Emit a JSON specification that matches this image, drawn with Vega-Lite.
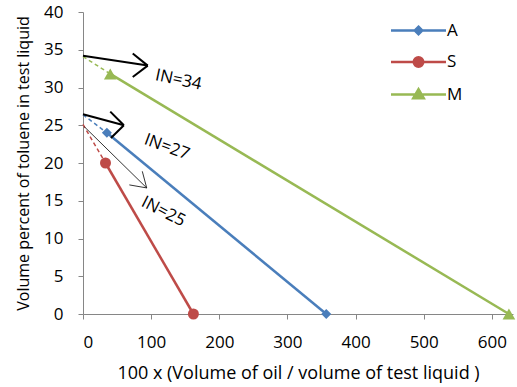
{
  "$schema": "https://vega.github.io/schema/vega-lite/v6.json",
  "width": 430,
  "height": 302,
  "autosize": "none",
  "padding": {"left": 83, "top": 12, "right": 4, "bottom": 73},
  "config": {
    "view": {"stroke": null},
    "font": "Open Sans",
    "axis": {
      "grid": false,
      "domainColor": "#868686",
      "tickColor": "#868686",
      "tickSize": 5,
      "labelFont": "Open Sans",
      "labelFontSize": 17,
      "labelColor": "#000000",
      "titleFont": "Open Sans",
      "titleFontWeight": "normal",
      "titleColor": "#000000"
    }
  },
  "datasets": {
    "pts": [
      {"series": "A", "x": 35, "y": 24},
      {"series": "A", "x": 357, "y": 0},
      {"series": "S", "x": 33, "y": 20},
      {"series": "S", "x": 162, "y": 0},
      {"series": "M", "x": 40, "y": 31.8},
      {"series": "M", "x": 625, "y": 0}
    ],
    "dash": [
      {"series": "A", "x": 0, "y": 26.4},
      {"series": "A", "x": 35, "y": 24},
      {"series": "S", "x": 0, "y": 25.1},
      {"series": "S", "x": 33, "y": 20},
      {"series": "M", "x": 0, "y": 34.1},
      {"series": "M", "x": 40, "y": 31.8}
    ],
    "arrows": [
      {"w": "thick", "x": 0, "y": 34.2, "x2": 95, "y2": 32.9},
      {"w": "thick", "x": 95, "y": 32.9, "x2": 73, "y2": 34.5},
      {"w": "thick", "x": 95, "y": 32.9, "x2": 73, "y2": 31.4},
      {"w": "thick", "x": 0, "y": 26.45, "x2": 60, "y2": 25.0},
      {"w": "thick", "x": 60, "y": 25.0, "x2": 40, "y2": 26.8},
      {"w": "thick", "x": 60, "y": 25.0, "x2": 41, "y2": 23.3},
      {"w": "thin", "x": 2, "y": 24.8, "x2": 93.5, "y2": 16.7},
      {"w": "thin", "x": 93.5, "y": 16.7, "x2": 87, "y2": 18.9},
      {"w": "thin", "x": 93.5, "y": 16.7, "x2": 68, "y2": 17.1}
    ],
    "labels": [
      {"label": "IN=34", "x": 140, "y": 31.0},
      {"label": "IN=27", "x": 123, "y": 22.1},
      {"label": "IN=25", "x": 118, "y": 13.55}
    ]
  },
  "encoding": {
    "x": {
      "field": "x",
      "type": "quantitative",
      "scale": {"domain": [0, 631], "nice": false},
      "axis": {
        "values": [0, 100, 200, 300, 400, 500, 600],
        "title": "100 x (Volume of oil / volume of test liquid )",
        "titleFontSize": 18,
        "labelPadding": 15,
        "titlePadding": 14
      }
    },
    "y": {
      "field": "y",
      "type": "quantitative",
      "scale": {"domain": [0, 40], "nice": false},
      "axis": {
        "values": [0, 5, 10, 15, 20, 25, 30, 35, 40],
        "title": "Volume percent of toluene in test liquid",
        "titleFontSize": 16,
        "labelPadding": 15,
        "titlePadding": 12
      }
    }
  },
  "layer": [
    {
      "data": {"name": "dash"},
      "mark": {"type": "line", "strokeWidth": 1.5, "strokeDash": [4, 3]},
      "encoding": {
        "detail": {"field": "series"},
        "color": {
          "condition": [
            {"test": "datum.series === 'A'", "value": "#4A7EBB"},
            {"test": "datum.series === 'S'", "value": "#BE4B48"}
          ],
          "value": "#98B954"
        },
        "order": {"field": "x", "type": "quantitative"}
      }
    },
    {
      "data": {"name": "pts"},
      "mark": {"type": "line", "strokeWidth": 2.5},
      "encoding": {
        "detail": {"field": "series"},
        "color": {
          "condition": [
            {"test": "datum.series === 'A'", "value": "#4A7EBB"},
            {"test": "datum.series === 'S'", "value": "#BE4B48"}
          ],
          "value": "#98B954"
        },
        "order": {"field": "x", "type": "quantitative"}
      }
    },
    {
      "data": {"name": "pts"},
      "transform": [{"filter": "datum.series === 'A'"}],
      "mark": {"type": "point", "shape": "diamond", "filled": true, "opacity": 1, "size": 100, "color": "#4A7EBB"}
    },
    {
      "data": {"name": "pts"},
      "transform": [{"filter": "datum.series === 'S'"}],
      "mark": {"type": "point", "shape": "circle", "filled": true, "opacity": 1, "size": 121, "color": "#BE4B48"}
    },
    {
      "data": {"name": "pts"},
      "transform": [{"filter": "datum.series === 'M'"}],
      "mark": {"type": "point", "shape": "triangle-up", "filled": true, "opacity": 1, "size": 160, "color": "#98B954"}
    },
    {
      "data": {"name": "pts"},
      "mark": {"type": "point", "filled": true, "opacity": 0, "strokeWidth": 2.5, "size": 100},
      "encoding": {
        "fill": {
          "field": "series",
          "type": "nominal",
          "scale": {"domain": ["A", "S", "M"], "range": ["#4A7EBB", "#BE4B48", "#98B954"]},
          "legend": {
            "orient": "none",
            "legendX": 327,
            "legendY": 10,
            "title": null,
            "symbolSize": 100,
            "symbolStrokeWidth": 2.5,
            "symbolOpacity": 1,
            "labelFont": "Open Sans",
            "labelFontSize": 17,
            "labelColor": "#000000",
            "labelOffset": 20,
            "rowPadding": 11.5,
            "encode": {
              "symbols": {
                "update": {
                  "fill": {"scale": "fill", "field": "value"},
                  "fillOpacity": {"value": 1},
                  "opacity": {"value": 1}
                }
              }
            }
          }
        },
        "stroke": {"field": "series", "type": "nominal", "scale": {"domain": ["A", "S", "M"], "range": ["#4A7EBB", "#BE4B48", "#98B954"]}},
        "shape": {
          "field": "series",
          "type": "nominal",
          "scale": {
            "domain": ["A", "S", "M"],
            "range": [
              "M-5.5,0H5.5M0,-0.75L0.75,0L0,0.75L-0.75,0Z",
              "M-5.5,0H5.5M-0.95,0A0.95,0.95,0,1,0,0.95,0A0.95,0.95,0,1,0,-0.95,0Z",
              "M-5.5,0H5.5M0,-1.05L1.05,0.75L-1.05,0.75Z"
            ]
          }
        }
      }
    },
    {
      "data": {"name": "arrows"},
      "transform": [{"filter": "datum.w === 'thick'"}],
      "mark": {"type": "rule", "color": "#000000", "strokeWidth": 2},
      "encoding": {
        "x2": {"field": "x2"},
        "y2": {"field": "y2"}
      }
    },
    {
      "data": {"name": "arrows"},
      "transform": [{"filter": "datum.w === 'thin'"}],
      "mark": {"type": "rule", "color": "#000000", "strokeWidth": 0.8},
      "encoding": {
        "x2": {"field": "x2"},
        "y2": {"field": "y2"}
      }
    },
    {
      "data": {"name": "labels"},
      "transform": [{"filter": "datum.label === 'IN=34'"}],
      "mark": {"type": "text", "angle": 12, "fontSize": 17, "font": "Open Sans", "color": "#000000"},
      "encoding": {"text": {"field": "label"}}
    },
    {
      "data": {"name": "labels"},
      "transform": [{"filter": "datum.label === 'IN=27'"}],
      "mark": {"type": "text", "angle": 20, "fontSize": 17, "font": "Open Sans", "color": "#000000"},
      "encoding": {"text": {"field": "label"}}
    },
    {
      "data": {"name": "labels"},
      "transform": [{"filter": "datum.label === 'IN=25'"}],
      "mark": {"type": "text", "angle": 27, "fontSize": 17, "font": "Open Sans", "color": "#000000"},
      "encoding": {"text": {"field": "label"}}
    }
  ]
}
